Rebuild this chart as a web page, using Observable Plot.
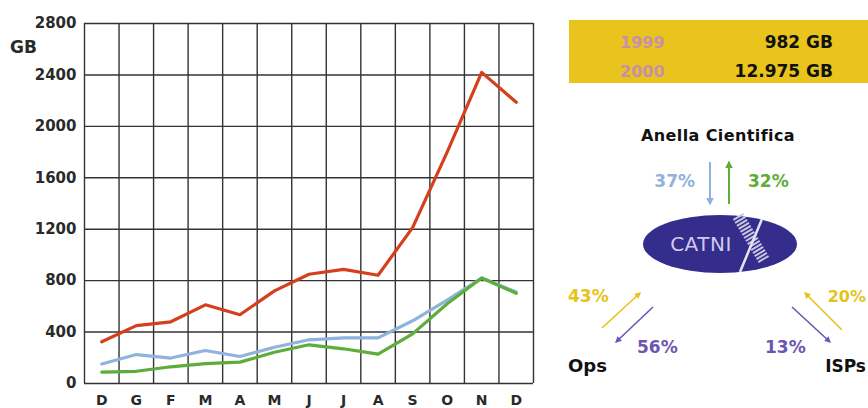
<!DOCTYPE html>
<html>
<head>
<meta charset="utf-8">
<script src="https://cdn.jsdelivr.net/npm/d3@7"></script>
<script src="https://cdn.jsdelivr.net/npm/@observablehq/plot@0.6"></script>
<style>
  html, body { margin: 0; padding: 0; background: #fff; }
  #wrap { position: relative; width: 868px; height: 408px; overflow: hidden; font-family: "DejaVu Sans", sans-serif; }
  #chart { position: absolute; left: 0; top: 0; }
  #gb { position: absolute; left: 10px; top: 37px; font-size: 17px; font-weight: bold; color: #2a2a2a; }
  #panel { position: absolute; left: 0; top: 0; }
</style>
</head>
<body>
<div id="wrap">
  <div id="chart"></div>
  <div id="gb">GB</div>
  <svg id="panel" width="868" height="408"></svg>
</div>
<script>
// ---- data ----
const months = ["D","G","F","M","A","M","J","J","A","S","O","N","D"];
const totalTraffic = [325, 450, 480, 612, 535, 720, 850, 888, 842, 1212, 1800, 2420, 2188];
const scientificIn = [152, 225, 198, 257, 210, 282, 340, 355, 355, 488, 648, 820, 712];
const scientificOut = [88, 95, 130, 155, 166, 243, 301, 270, 228, 386, 620, 820, 702];
const yTicks = [0, 400, 800, 1200, 1600, 2000, 2400, 2800];
const yearLabels = ["1999", "2000"];
const yearTotals = ["982 GB", "12.975 GB"];

const rows = (vals) => months.map((m, i) => ({i, m, v: vals[i]}));
const edges = d3.range(months.length + 1).map(i => i - 0.5);

const chart = Plot.plot({
  width: 560,
  height: 408,
  marginLeft: 84,
  marginRight: 27,
  marginTop: 23,
  marginBottom: 25,
  style: {fontFamily: "DejaVu Sans, sans-serif", fontSize: "15px", fontWeight: "bold", color: "#2a2a2a", background: "transparent"},
  x: {type: "linear", domain: [-0.5, months.length - 0.5]},
  y: {domain: [0, 2800]},
  marks: [
    Plot.ruleY(yTicks, {stroke: "#333", strokeWidth: 1.4}),
    Plot.ruleX(edges, {stroke: "#333", strokeWidth: 1.4}),
    Plot.axisY({ticks: yTicks, tickFormat: d => String(d), tickSize: 0, tickPadding: 8, label: null, fill: "#2a2a2a"}),
    Plot.axisX({ticks: d3.range(months.length), tickFormat: i => months[i], tickSize: 0, tickPadding: 12, label: null, fill: "#2a2a2a", fontSize: 14}),
    Plot.line(rows(scientificIn), {x: "i", y: "v", stroke: "#8fb3dc", strokeWidth: 3.2}),
    Plot.line(rows(scientificOut), {x: "i", y: "v", stroke: "#5cad3a", strokeWidth: 3.2}),
    Plot.line(rows(totalTraffic), {x: "i", y: "v", stroke: "#d43f1e", strokeWidth: 3.2})
  ]
});
document.getElementById("chart").appendChild(chart);

// ---- right-hand diagram ----
const svg = d3.select("#panel");
const defs = svg.append("defs");
function marker(id, color) {
  defs.append("marker").attr("id", id).attr("viewBox", "0 0 10 10")
    .attr("refX", 8).attr("refY", 5).attr("markerWidth", 4).attr("markerHeight", 4)
    .attr("orient", "auto-start-reverse")
    .append("path").attr("d", "M0,0 L10,5 L0,10 z").attr("fill", color);
}
const cBlue = "#8fb3dc", cGreen = "#5cad3a", cYellow = "#e6c31c", cPurple = "#6b57b3";
marker("mb", cBlue); marker("mg", cGreen); marker("my", cYellow); marker("mp", cPurple);

const font = "DejaVu Sans, sans-serif";
svg.append("rect").attr("x", 569).attr("y", 20).attr("width", 300).attr("height", 63).attr("fill", "#e8c41c");
yearLabels.forEach((yr, k) => {
  svg.append("text").attr("x", 620).attr("y", 48 + k * 29).attr("font-family", font).attr("font-size", 16)
    .attr("font-weight", "bold").attr("fill", "#c98fa8").text(yr);
  svg.append("text").attr("x", 833).attr("y", 48 + k * 29).attr("text-anchor", "end").attr("font-family", font)
    .attr("font-size", 17).attr("font-weight", "bold").attr("fill", "#111").text(yearTotals[k]);
});

function txt(x, y, s, color, opts = {}) {
  svg.append("text").attr("x", x).attr("y", y).attr("font-family", font)
    .attr("font-size", opts.size || 17).attr("font-weight", opts.weight || "bold")
    .attr("letter-spacing", opts.ls || 0)
    .attr("text-anchor", opts.anchor || "start").attr("fill", color).text(s);
}
function arrow(x1, y1, x2, y2, color, m, w = 2) {
  svg.append("line").attr("x1", x1).attr("y1", y1).attr("x2", x2).attr("y2", y2)
    .attr("stroke", color).attr("stroke-width", w).attr("marker-end", `url(#${m})`);
}

txt(718, 141, "Anella Cientifica", "#111", {anchor: "middle", size: 16, ls: 0.4});
txt(695, 187, "37%", cBlue, {anchor: "end"});
arrow(710, 162, 710, 204, cBlue, "mb", 2);
arrow(729, 204, 729, 162, cGreen, "mg", 2);
txt(748, 187, "32%", cGreen);

svg.append("ellipse").attr("cx", 720).attr("cy", 244).attr("rx", 77).attr("ry", 29).attr("fill", "#352d8c");
txt(701, 251, "CATNI", "#cfcbe9", {anchor: "middle", size: 20, weight: "normal", ls: 0.5});
svg.append("line").attr("x1", 738).attr("y1", 216).attr("x2", 764).attr("y2", 260)
  .attr("stroke", "#c9c5e0").attr("stroke-width", 12).attr("stroke-dasharray", "2,1.5");
svg.append("line").attr("x1", 762).attr("y1", 219).attr("x2", 740).attr("y2", 272)
  .attr("stroke", "#e6e4f3").attr("stroke-width", 2.5);

txt(568, 302, "43%", cYellow);
arrow(602, 328, 640, 293, cYellow, "my", 1.6);
arrow(653, 307, 616, 342, cPurple, "mp", 1.6);
txt(637, 353, "56%", cPurple);
txt(568, 372, "Ops", "#111", {size: 18});

arrow(792, 307, 830, 342, cPurple, "mp", 1.6);
txt(765, 353, "13%", cPurple);
arrow(842, 330, 805, 293, cYellow, "my", 1.6);
txt(866, 302, "20%", cYellow, {anchor: "end", size: 16});
txt(866, 372, "ISPs", "#111", {anchor: "end", size: 17});
</script>
</body>
</html>
